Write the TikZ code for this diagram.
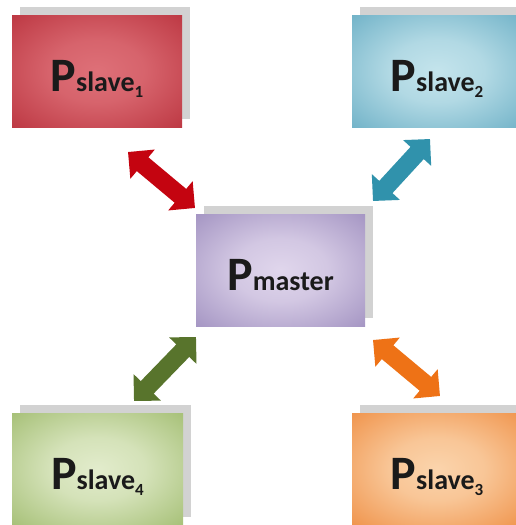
\documentclass[tikz,border=0pt]{standalone}
\usepackage{fontspec}
\setmainfont{Carlito}
\usetikzlibrary{arrows.meta,shadows}

% box fills: light centre fading to a deeper rim
\definecolor{redin}{RGB}{222,112,120}
\definecolor{redout}{RGB}{172,28,40}
\definecolor{bluein}{RGB}{196,228,236}
\definecolor{blueout}{RGB}{72,154,182}
\definecolor{purin}{RGB}{224,214,236}
\definecolor{purout}{RGB}{134,116,174}
\definecolor{grnin}{RGB}{226,236,204}
\definecolor{grnout}{RGB}{136,170,76}
\definecolor{orgin}{RGB}{251,212,172}
\definecolor{orgout}{RGB}{234,116,28}
% arrow inks
\definecolor{redarrow}{RGB}{196,4,16}
\definecolor{bluearrow}{RGB}{48,146,172}
\definecolor{grnarrow}{RGB}{88,116,44}
\definecolor{orgarrow}{RGB}{238,114,22}
\definecolor{labelink}{RGB}{26,26,26}

\pgfdeclareradialshading{redglow}{\pgfpoint{0bp}{0bp}}{color(0bp)=(redin); color(14bp)=(redin!85!redout); color(50bp)=(redout); color(80bp)=(redout)}
\pgfdeclareradialshading{blueglow}{\pgfpoint{0bp}{0bp}}{color(0bp)=(bluein); color(14bp)=(bluein!85!blueout); color(50bp)=(blueout); color(80bp)=(blueout)}
\pgfdeclareradialshading{purglow}{\pgfpoint{0bp}{0bp}}{color(0bp)=(purin); color(14bp)=(purin!85!purout); color(50bp)=(purout); color(80bp)=(purout)}
\pgfdeclareradialshading{grnglow}{\pgfpoint{0bp}{0bp}}{color(0bp)=(grnin); color(14bp)=(grnin!85!grnout); color(50bp)=(grnout); color(80bp)=(grnout)}
\pgfdeclareradialshading{orgglow}{\pgfpoint{0bp}{0bp}}{color(0bp)=(orgin); color(14bp)=(orgin!85!orgout); color(50bp)=(orgout); color(80bp)=(orgout)}

\newcommand{\procname}[2]{{\fontsize{48}{48}\selectfont\bfseries P}{\fontsize{28}{28}\selectfont\bfseries #1}\ifx\relax#2\relax\else\raisebox{-6pt}{\fontsize{17}{17}\selectfont\bfseries #2}\fi}

\tikzset{
  procbox/.style={rectangle, inner sep=0pt, minimum width=170pt, minimum height=112pt,
    text=labelink, text height=40pt, text depth=0pt,
    drop shadow={shadow xshift=8pt, shadow yshift=8pt, fill=black!35, opacity=0.5}},
  link/.style={line width=18pt,
    {Triangle[width=37pt,length=19pt]}-{Triangle[width=37pt,length=19pt]}}
}

\begin{document}
\begin{tikzpicture}[x=1pt,y=-1pt]
  \useasboundingbox (0,0) rectangle (516,525);
  \clip (0,0) rectangle (516,525);
  \fill[white] (0,0) rectangle (516,525);

  % processes
  \node[procbox, shading=redglow] (s1) at (97,71) {\procname{slave}{1}};
  \node[procbox, shading=blueglow] (s2) at (437,71) {\procname{slave}{2}};
  \node[procbox, shading=purglow, minimum width=169pt] (m) at (280.5,270) {\procname{master}{}};
  \node[procbox, shading=orgglow] (s3) at (437,469) {\procname{slave}{3}};
  \node[procbox, shading=grnglow, minimum width=171pt] (s4) at (97.5,469) {\procname{slave}{4}};

  % ends of the two-way links
  \coordinate (r1) at (128,152);
  \coordinate (r2) at (195,208);
  \coordinate (b1) at (430,139);
  \coordinate (b2) at (373,201);
  \coordinate (g1) at (196,337);
  \coordinate (g2) at (134,401);
  \coordinate (o1) at (373,340);
  \coordinate (o2) at (440,396);

  \draw[link, draw=redarrow, fill=redarrow] (r1) -- (r2);
  \draw[link, draw=bluearrow, fill=bluearrow] (b1) -- (b2);
  \draw[link, draw=grnarrow, fill=grnarrow] (g1) -- (g2);
  \draw[link, draw=orgarrow, fill=orgarrow] (o1) -- (o2);
\end{tikzpicture}
\end{document}
